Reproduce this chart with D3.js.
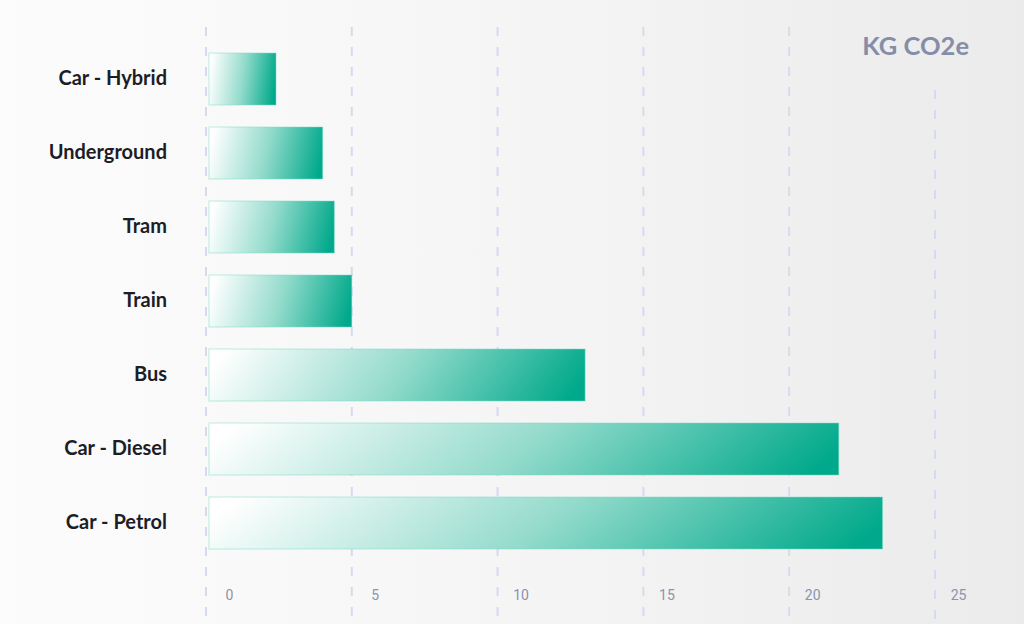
<!DOCTYPE html>
<html>
<head>
<meta charset="utf-8">
<script src="https://cdn.jsdelivr.net/npm/d3@7"></script>
<style>
  html, body { margin: 0; padding: 0; background: #f5f5f6; }
  svg { display: block; }
</style>
</head>
<body>
<svg id="chart" width="1024" height="624"></svg>
<script>
const categories = ["Car - Hybrid", "Underground", "Tram", "Train", "Bus", "Car - Diesel", "Car - Petrol"];
const values = [2.4, 4.0, 4.4, 5.0, 13.0, 21.7, 23.2];
const tickValues = [0, 5, 10, 15, 20, 25];
const unitLabel = "KG CO2e";

const W = 1024, H = 624;
const svg = d3.select("#chart");
const defs = svg.append("defs");

const bg = defs.append("linearGradient").attr("id", "bg").attr("x1", 0).attr("x2", 1).attr("y1", 0).attr("y2", 0);
bg.append("stop").attr("offset", 0).attr("stop-color", "#fcfcfc");
bg.append("stop").attr("offset", 0.45).attr("stop-color", "#f6f6f7");
bg.append("stop").attr("offset", 1).attr("stop-color", "#ebebec");

const bar = defs.append("linearGradient").attr("id", "barGrad")
  .attr("x1", 0).attr("x2", 1).attr("y1", 0.45).attr("y2", 0.55);
bar.append("stop").attr("offset", 0).attr("stop-color", "#ffffff");
bar.append("stop").attr("offset", 0.5).attr("stop-color", "#94dbcc");
bar.append("stop").attr("offset", 1).attr("stop-color", "#00a98b");

svg.append("rect").attr("width", W).attr("height", H).attr("fill", "url(#bg)");

const x = d3.scaleLinear().domain([0, 25]).range([206, 935]);
const y = d3.scaleBand().domain(categories).range([53, 549]).paddingInner(22 / 74).paddingOuter(0);

// grid lines
svg.append("g").selectAll("line").data(tickValues).join("line")
  .attr("x1", d => x(d)).attr("x2", d => x(d))
  .attr("y1", d => d === 25 ? 90 : 27).attr("y2", H)
  .attr("stroke", "#d3dbef").attr("stroke-width", 2)
  .attr("stroke-dasharray", "9,11");

// bars
svg.append("g").selectAll("rect").data(categories).join("rect")
  .attr("x", x(0) + 3)
  .attr("y", d => y(d))
  .attr("width", (d, i) => x(values[i]) - x(0) - 3)
  .attr("height", y.bandwidth())
  .attr("fill", "url(#barGrad)")
  .attr("stroke", "rgba(120,220,195,0.5)")
  .attr("stroke-width", 1);

// category labels
const yAxis = d3.axisLeft(y).tickSize(0).tickPadding(0);
const gy = svg.append("g").attr("transform", "translate(167,0)").call(yAxis);
gy.select(".domain").remove();
gy.selectAll("text")
  .attr("font-family", "Lato, 'Noto Sans', sans-serif")
  .attr("font-weight", 700)
  .attr("font-size", 20)
  .attr("fill", "#1d1d27");

// x tick labels
const xAxis = d3.axisBottom(x).tickValues(tickValues).tickSize(0).tickPadding(0);
const gx = svg.append("g").attr("transform", "translate(0,590)").call(xAxis);
gx.select(".domain").remove();
gx.selectAll("text")
  .attr("x", 23)
  .attr("font-family", "Roboto, sans-serif")
  .attr("font-size", 14)
  .attr("fill", "#8c92ad");

// unit label
svg.append("text")
  .attr("x", 969).attr("y", 55)
  .attr("text-anchor", "end")
  .attr("font-family", "Lato, sans-serif")
  .attr("font-weight", 700)
  .attr("font-size", 25.5)
  .attr("fill", "#858da8")
  .text(unitLabel);
</script>
</body>
</html>
